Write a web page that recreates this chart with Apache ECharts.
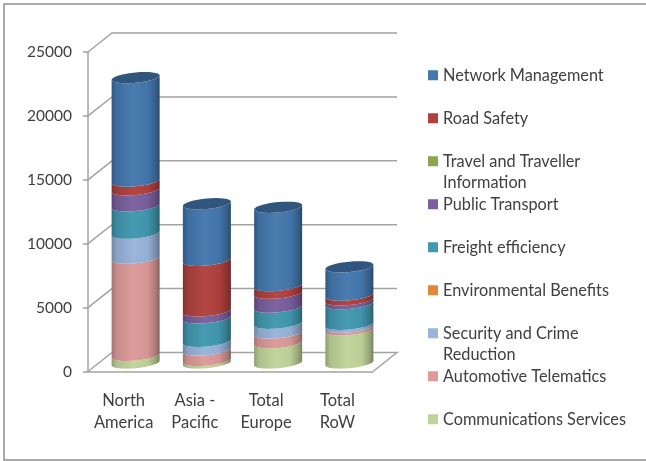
<!DOCTYPE html>
<html><head><meta charset="utf-8">
<style>html,body{margin:0;padding:0;background:#fff}#c{width:646px;height:461px}</style>
<script src="https://cdn.jsdelivr.net/npm/echarts@6/dist/echarts.min.js"></script>
</head><body><div id="c"></div>
<script>
const categories = ['North\nAmerica', 'Asia -\nPacific', 'Total\nEurope', 'Total\nRoW'];
const yTicks = [0, 5000, 10000, 15000, 20000, 25000];
const communications = [600, 200, 1590, 2600];
const telematics = [7605, 820, 760, 200];
const security = [1950, 680, 760, 230];
const environmental = [0, 0, 0, 0];
const freight = [2140, 1830, 1265, 1610];
const publicTransport = [1260, 550, 1085, 300];
const travel = [0, 0, 0, 0];
const roadSafety = [680, 3958, 590, 370];
const network = [8095, 4425, 6135, 2215];

const stack = [
  ['Communications Services', communications, '#C0D49A'],
  ['Automotive Telematics', telematics, '#DC9A99'],
  ['Security and Crime Reduction', security, '#99B3DA'],
  ['Environmental Benefits', environmental, '#E0873A'],
  ['Freight efficiency', freight, '#4198AF'],
  ['Public Transport', publicTransport, '#7A5F9E'],
  ['Travel and Traveller Information', travel, '#8AA64E'],
  ['Road Safety', roadSafety, '#B0413E'],
  ['Network Management', network, '#4478AE']
];
const legendLines = {
  'Travel and Traveller Information': ['Travel and Traveller', 'Information'],
  'Security and Crime Reduction': ['Security and Crime', 'Reduction']
};
const DEPTH_X = 24, DEPTH_Y = 19;
const CENTER_X = 12, CENTER_Y = 8.5;
const MINOR = 5.2, TILT = 2.2, RADIUS = 0.337;

function shade(hex, f) {
  const n = parseInt(hex.slice(1), 16);
  const c = [n >> 16, (n >> 8) & 255, n & 255].map(v =>
    Math.round(f < 1 ? v * f : v + (255 - v) * (f - 1)));
  return 'rgb(' + c.join(',') + ')';
}
function bodyFill(col) {
  return { type: 'linear', x: 0, y: 0, x2: 1, y2: 0, colorStops: [
    { offset: 0, color: shade(col, 0.74) }, { offset: 0.1, color: shade(col, 0.9) },
    { offset: 0.45, color: shade(col, 1.03) }, { offset: 0.75, color: shade(col, 0.97) },
    { offset: 0.92, color: shade(col, 0.78) }, { offset: 1, color: shade(col, 0.62) }
  ]};
}
function rim(cx, cy, a, from, to) {
  const pts = [];
  for (let i = 0; i <= 32; i++) {
    const t = from + (to - from) * i / 32;
    pts.push([cx + a * Math.cos(t), cy + MINOR * Math.sin(t) - TILT * Math.cos(t)]);
  }
  return pts;
}
const totals = categories.map((_, i) => stack.reduce((s, r) => s + r[1][i], 0));

const cylinderSeries = stack.map((row, k) => {
  const data = row[1].map((v, i) => {
    const base = stack.slice(0, k).reduce((s, r) => s + r[1][i], 0);
    return [i, base, base + v];
  });
  return {
    type: 'custom', name: row[0], color: row[2], itemStyle: { color: row[2] },
    z: 5 + k, clip: false, silent: true, data,
    encode: { x: 0, y: 2 },
    renderItem(params, api) {
      const i = api.value(0), lo = api.value(1), hi = api.value(2);
      if (hi <= lo) return { type: 'group', children: [] };
      const a = api.size([1, 0])[0] * RADIUS;
      const pLo = api.coord([i, lo]), pHi = api.coord([i, hi]);
      const cx = pLo[0] + CENTER_X;
      const yLo = pLo[1] - CENTER_Y, yHi = pHi[1] - CENTER_Y;
      const points = rim(cx, yHi, a, Math.PI, 0).concat(rim(cx, yLo, a, 0, Math.PI));
      const children = [{ type: 'polygon', shape: { points }, style: { fill: bodyFill(row[2]) } }];
      if (hi >= totals[i]) {
        children.push({ type: 'polygon', shape: { points: rim(cx, yHi, a, 0, Math.PI * 2) },
          style: { fill: shade(row[2], 0.72) } });
      }
      return { type: 'group', children };
    }
  };
});

const wallSeries = {
  type: 'custom', silent: true, clip: false, z: 1,
  data: yTicks.map(t => [0, t]), encode: { x: 0, y: 1 },
  renderItem(params, api) {
    const y = api.coord([0, api.value(1)])[1];
    const x = params.coordSys.x, w = params.coordSys.width;
    const pts = [[x, y], [x + DEPTH_X, y - DEPTH_Y], [x + w + DEPTH_X, y - DEPTH_Y]];
    if (api.value(1) === 0) pts.push([x + w, y]);
    return { type: 'polyline', shape: { points: pts },
      style: { stroke: '#a3a3a3', lineWidth: 1.5, fill: 'none' } };
  }
};

const chart = echarts.init(document.getElementById('c'), null, { renderer: 'canvas' });
chart.setOption({
  animation: false,
  backgroundColor: '#ffffff',
  textStyle: { fontFamily: 'Lato' },
  graphic: [{ type: 'rect', silent: true, z: 0,
    shape: { x: 4, y: 4, width: 700, height: 456 },
    style: { fill: 'none', stroke: '#8f8f8f', lineWidth: 1.5 } }],
  grid: { left: 88, top: 52, width: 285, height: 319.5 },
  xAxis: { type: 'category', data: categories, z: 2,
    axisLine: { lineStyle: { color: '#a3a3a3', width: 1.5 } },
    axisTick: { show: false },
    axisLabel: { color: '#404040', fontFamily: 'Lato', fontSize: 16.5, lineHeight: 22, margin: 18, interval: 0 } },
  yAxis: { type: 'value', min: 0, max: 25000, interval: 5000, z: 2,
    axisLine: { show: true, lineStyle: { color: '#a3a3a3', width: 1.5 } },
    axisTick: { show: true, length: 5, lineStyle: { color: '#a3a3a3', width: 1.5 } },
    axisLabel: { color: '#404040', fontFamily: 'Lato', fontSize: 15.5, margin: 16, padding: [3, 0, 0, 0], formatter: v => String(v) },
    splitLine: { show: false } },
  legend: {
    left: 428, top: 43, height: 440, padding: 0, orient: 'vertical', icon: 'rect', itemWidth: 10, itemHeight: 10,
    itemGap: -21.5, itemStyle: { borderWidth: 0 }, selectedMode: false,
    data: stack.map(r => r[0]).reverse(),
    formatter(name) {
      const lines = legendLines[name] || [name, ' '];
      return ' \n' + lines[0] + '\n' + lines[1];
    },
    textStyle: { color: '#404040', fontFamily: 'Lato', fontSize: 16.3, lineHeight: 21.5 }
  },
  series: [wallSeries].concat(cylinderSeries)
});
</script></body></html>
